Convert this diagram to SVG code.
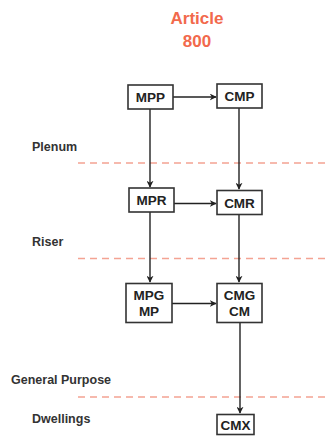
<svg xmlns="http://www.w3.org/2000/svg" width="327" height="436" viewBox="0 0 327 436">
<style>
.box{fill:#fff;stroke:#333;stroke-width:1.6}
.lbl{font-family:"Liberation Sans",Arial,sans-serif;font-weight:bold;font-size:13.5px;fill:#222;text-anchor:middle}
.zone{font-family:"Liberation Sans",Arial,sans-serif;font-weight:bold;font-size:12.5px;fill:#333}
.title{font-family:"Liberation Sans",Arial,sans-serif;font-weight:bold;font-size:17px;fill:#f2694c;text-anchor:middle}
.dash{stroke:#f4a393;stroke-width:1.3;stroke-dasharray:7 5;fill:none}
.conn{stroke:#222;stroke-width:1.4;fill:none;marker-end:url(#ah)}
</style>
<defs>
<marker id="ah" viewBox="0 0 10 10" refX="9" refY="5" markerWidth="7" markerHeight="7" markerUnits="userSpaceOnUse" orient="auto">
<path d="M0,0 L10,5 L0,10 L3,5 Z" fill="#222"/>
</marker>
</defs>
<rect width="327" height="436" fill="#fff"/>
<g id="title">
<text class="title" x="197" y="24">Article</text>
<text class="title" x="197" y="47">800</text>
</g>
<g id="zones">
<text class="zone" x="32" y="151">Plenum</text>
<line class="dash" x1="78" y1="163" x2="327" y2="163"/>
<text class="zone" x="32" y="246">Riser</text>
<line class="dash" x1="78" y1="258.5" x2="327" y2="258.5"/>
<text class="zone" x="11" y="384">General Purpose</text>
<line class="dash" x1="78" y1="397" x2="327" y2="397"/>
<text class="zone" x="32" y="423">Dwellings</text>
</g>
<g id="connectors">
<line class="conn" x1="173" y1="97" x2="216" y2="97"/>
<line class="conn" x1="150" y1="109" x2="150" y2="187"/>
<line class="conn" x1="239" y1="108" x2="239" y2="189"/>
<line class="conn" x1="174" y1="203.5" x2="216" y2="203.5"/>
<line class="conn" x1="150" y1="212" x2="150" y2="282"/>
<line class="conn" x1="239" y1="215" x2="239" y2="282"/>
<line class="conn" x1="172" y1="303.5" x2="216" y2="303.5"/>
<line class="conn" x1="240" y1="322" x2="240" y2="413"/>
</g>
<g id="MPP"><rect class="box" x="128" y="85" width="45" height="24"/><text class="lbl" x="150.5" y="102">MPP</text></g>
<g id="CMP"><rect class="box" x="217" y="84" width="45" height="24"/><text class="lbl" x="239.5" y="101">CMP</text></g>
<g id="MPR"><rect class="box" x="129" y="188" width="45" height="24"/><text class="lbl" x="151.5" y="205">MPR</text></g>
<g id="CMR"><rect class="box" x="217" y="190.5" width="45" height="24"/><text class="lbl" x="239.5" y="207.5">CMR</text></g>
<g id="MPG"><rect class="box" x="126" y="283.5" width="46" height="39"/><text class="lbl" x="149" y="299.5">MPG</text><text class="lbl" x="149" y="315.5">MP</text></g>
<g id="CMG"><rect class="box" x="217" y="283.5" width="45" height="39"/><text class="lbl" x="239.5" y="299.5">CMG</text><text class="lbl" x="239.5" y="315.5">CM</text></g>
<g id="CMX"><rect class="box" x="217" y="414.5" width="37" height="20"/><text class="lbl" x="235.5" y="430">CMX</text></g>
</svg>
